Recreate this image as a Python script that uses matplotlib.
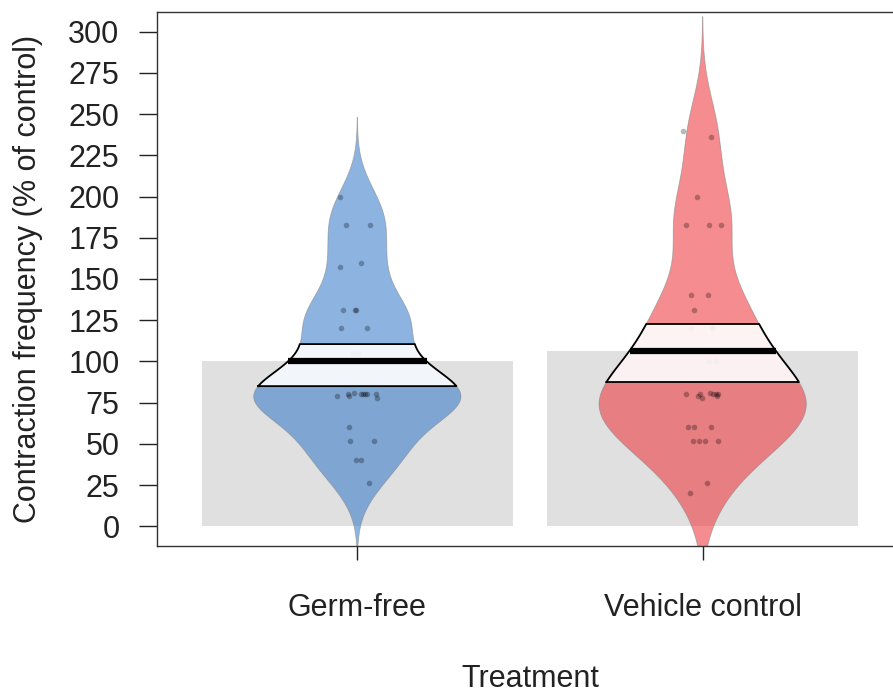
import numpy as np
import matplotlib
matplotlib.use("Agg")
import matplotlib.pyplot as plt

plt.rcParams['font.family'] = ['Liberation Sans', 'DejaVu Sans']

# ---- data ----
groups = ["Germ-free", "Vehicle control"]
germ_free = [200, 183, 183, 160, 157, 131, 131, 131, 120, 120, 105, 105,
             81, 80, 80, 80, 80, 80, 80, 79, 79, 78, 60, 52, 52, 40, 40, 26]
vehicle = [240, 236, 200, 183, 183, 183, 140, 140, 131, 120, 120, 120, 100, 100,
           81, 80, 80, 80, 80, 80, 79, 79, 78, 60, 60, 60, 52, 52, 52, 52, 26, 20]
means = [100.0, 106.5]
hdi_low = [85.0, 87.5]
hdi_high = [110.5, 122.7]
y_ticks = [0, 25, 50, 75, 100, 125, 150, 175, 200, 225, 250, 275, 300]
bandwidths = [16.0, 23.0]

values = [germ_free, vehicle]
colors = ["#3075CA", "#ED2E33"]

W, H = 893, 693
fig = plt.figure(figsize=(W / 100, H / 100), dpi=100)
ax = fig.add_axes([157 / W, 1 - 546 / H, (903 - 157) / W, (546 - 12) / H])

width_max = 0.30
bar_half = 0.45

def kde(data, bw):
    d = np.asarray(data, float)
    ys = np.linspace(d.min() - 3 * bw, d.max() + 3 * bw, 512)
    dens = np.exp(-0.5 * ((ys[:, None] - d[None, :]) / bw) ** 2).sum(axis=1)
    dens = dens / dens.max() * width_max
    return ys, dens

rng = np.random.default_rng(3)
for i, (vals, col) in enumerate(zip(values, colors)):
    x = i + 1
    # bar
    ax.add_patch(plt.Rectangle((x - bar_half, 0), 2 * bar_half, means[i],
                               facecolor="#E0E0E0", edgecolor="none", zorder=1))
    # bean
    ys, dens = kde(vals, bandwidths[i])
    ax.fill_betweenx(ys, x - dens, x + dens, facecolor=col, alpha=0.55,
                     edgecolor="none", zorder=2)
    ax.plot(x - dens, ys, color="#888888", lw=0.6, alpha=0.6, zorder=2)
    ax.plot(x + dens, ys, color="#888888", lw=0.6, alpha=0.6, zorder=2)
    # points
    jit = rng.uniform(-0.06, 0.06, len(vals))
    ax.scatter(x + jit, vals, s=16, color="black", alpha=0.28, linewidths=0,
               zorder=3)
    # inference band
    m = (ys >= hdi_low[i]) & (ys <= hdi_high[i])
    yy = np.concatenate([[hdi_low[i]], ys[m], [hdi_high[i]]])
    dd = np.interp(yy, ys, dens)
    px = np.concatenate([x - dd, (x + dd)[::-1]])
    py = np.concatenate([yy, yy[::-1]])
    ax.fill(px, py, facecolor="white", alpha=0.9, edgecolor="none", zorder=4)
    ax.plot(np.append(px, px[0]), np.append(py, py[0]), color="black", lw=1.3,
            zorder=5)
    # mean line
    dm = np.interp(means[i], ys, dens)
    ax.plot([x - dm, x + dm], [means[i], means[i]], color="black", lw=4.5,
            solid_capstyle="butt", zorder=6)

ax.set_xlim(0.42, 2.58)
ax.set_ylim(-12, 312)
ax.set_yticks(y_ticks)
ax.set_yticklabels([str(t) for t in y_ticks], fontsize=22)
ax.set_xticks([1, 2])
ax.set_xticklabels(groups, fontsize=22)
ax.tick_params(axis="y", length=13, width=1, pad=14, colors="#222222")
ax.tick_params(axis="x", length=10, width=1, pad=24, colors="#222222")
for s in ax.spines.values():
    s.set_color("#333333")
    s.set_linewidth(1)

fig.text(28 / W, 1 - 279 / H, "Contraction frequency (% of control)",
         rotation=90, ha="center", va="center", fontsize=22, color="#222222")
fig.text(530 / W, 1 - 679 / H, "Treatment", ha="center", va="center",
         fontsize=22, color="#222222")

fig.savefig("out.png", dpi=100)
